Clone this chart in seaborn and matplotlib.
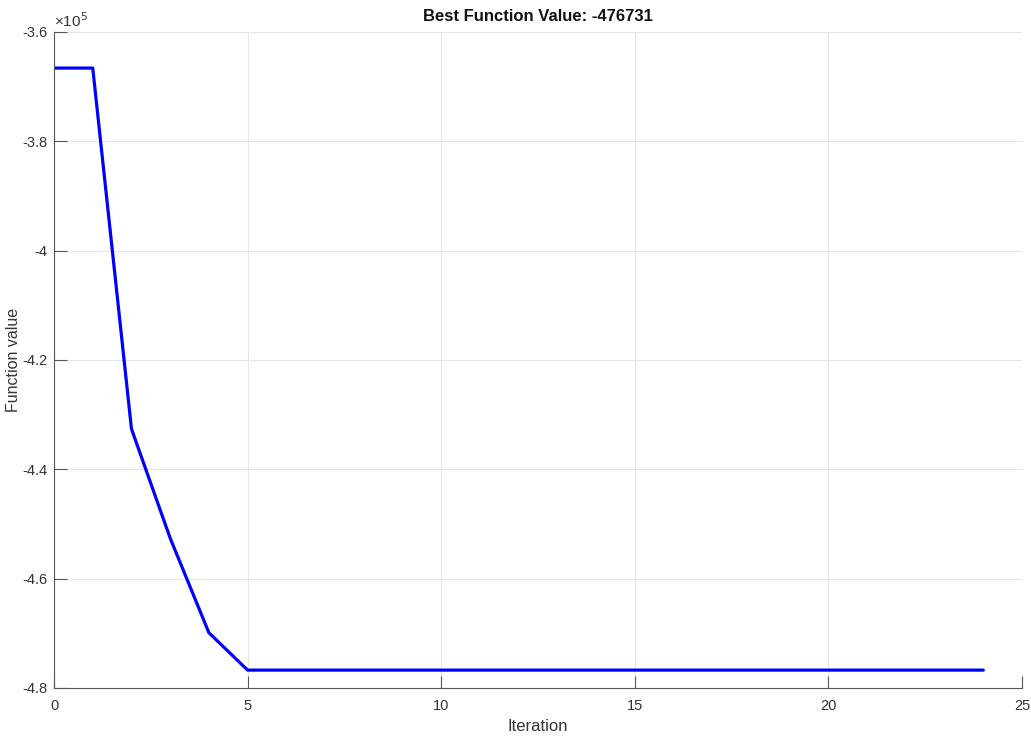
import matplotlib
matplotlib.use("Agg")
import matplotlib.pyplot as plt
import seaborn as sns
import pandas as pd
from matplotlib.ticker import FuncFormatter, MultipleLocator

iterations = list(range(0, 25))
values = [-366600, -366600, -432600, -452600, -469900] + [-476731] * 20
title = "Best Function Value: -476731"
x_label = "Iteration"
y_label = "Function value"

df = pd.DataFrame({"Iteration": iterations, "Value": values})

sns.set_style("white")
plt.rcParams["font.family"] = ["Liberation Sans", "DejaVu Sans"]

fig = plt.figure(figsize=(10.31, 7.42), dpi=100)
ax = fig.add_axes([0.0524, 0.0728, 0.9389, 0.8841])

sns.lineplot(data=df, x="Iteration", y="Value", ax=ax, color=(0, 0, 1), linewidth=2.3)

ax.set_xlim(0, 25)
ax.set_ylim(-480000, -360000)
ax.xaxis.set_major_locator(MultipleLocator(5))
ax.yaxis.set_major_locator(MultipleLocator(20000))
ax.yaxis.set_major_formatter(FuncFormatter(lambda v, p: f"{v/1e5:g}"))

ax.grid(True, color="#e6e6e6", linewidth=0.8)
ax.set_axisbelow(True)
for s in ["top", "right"]:
    ax.spines[s].set_visible(False)
for s in ["left", "bottom"]:
    ax.spines[s].set_color("#555555")
    ax.spines[s].set_linewidth(0.8)
ax.tick_params(bottom=True, left=True, direction="in", length=9, width=0.8,
               colors="#555555", labelcolor="#333333", labelsize=10.5)
ax.tick_params(axis="x", pad=8)
ax.tick_params(axis="y", pad=5)

ax.set_xlabel(x_label, fontsize=12, color="#333333")
ax.set_ylabel(y_label, fontsize=11.5, color="#333333")
ax.yaxis.set_label_coords(-0.034, 0.5)
ax.set_title(title, fontsize=12, fontweight="bold", color="#111111", pad=8)
ax.text(0.0, 1.003, "×10$^5$", transform=ax.transAxes, fontsize=11, color="#333333", ha="left", va="bottom")

fig.savefig("out.png", dpi=100)
